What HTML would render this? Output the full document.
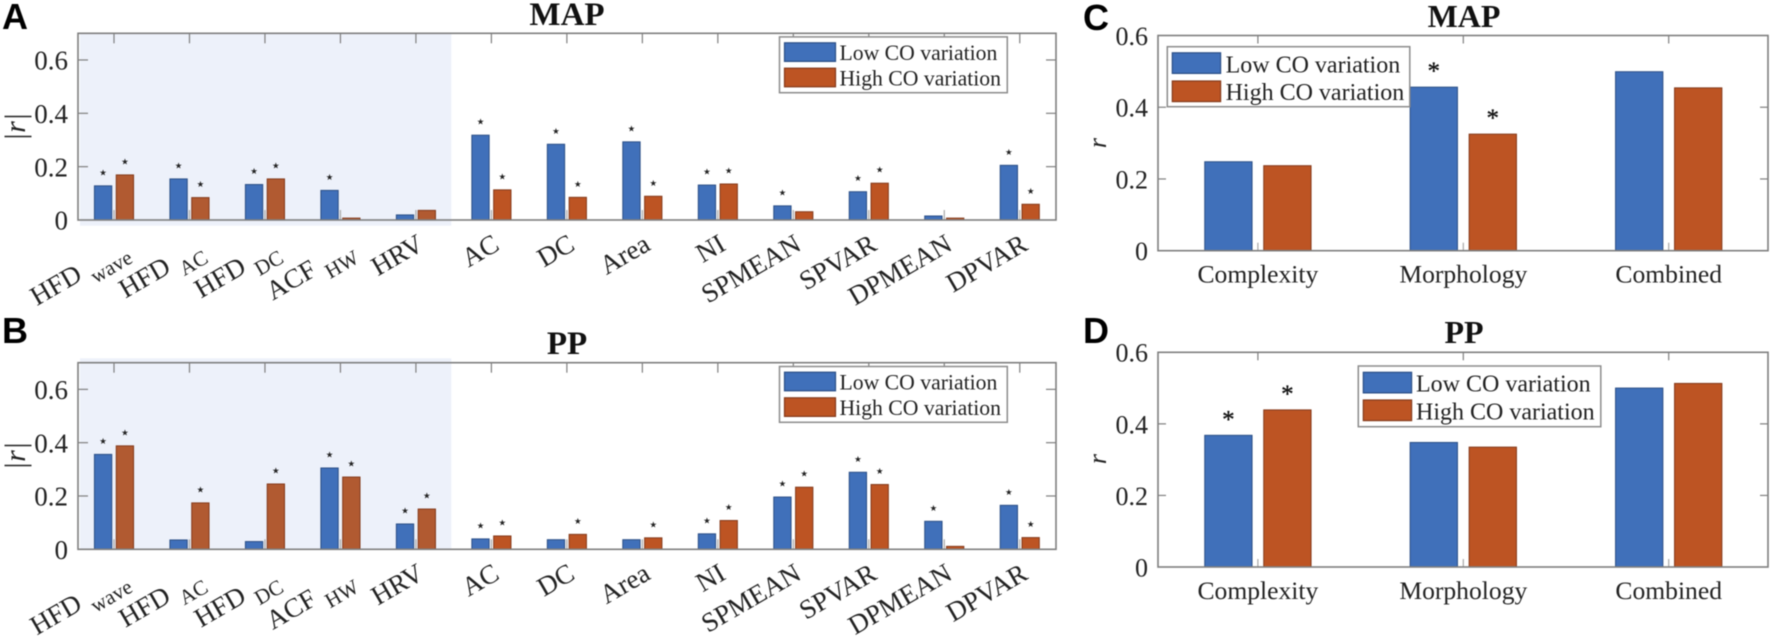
<!DOCTYPE html>
<html lang="en">
<head>
<meta charset="utf-8">
<title>MAP and PP correlation bar charts</title>
<style>
html,body{margin:0;padding:0;background:#fff;}
body{width:1772px;height:640px;overflow:hidden;}
svg{display:block;filter:blur(0.5px);}
text{font-family:"Liberation Serif",serif;fill:#222;}
</style>
</head>
<body>
<svg id="figure" xmlns="http://www.w3.org/2000/svg" width="1772" height="640" viewBox="0 0 1772 640"></svg>
<script>
const featureCategories = ['HFD_wave','HFD_AC','HFD_DC','ACF_HW','HRV','AC','DC','Area','NI','SPMEAN','SPVAR','DPMEAN','DPVAR'];
const groupCategories = ['Complexity','Morphology','Combined'];
const seriesNames = ['Low CO variation','High CO variation'];
const featureYTicks = [0,0.2,0.4,0.6];
const featureYTickLabels = ['0','0.2','0.4','0.6'];
const groupYTicks = [0,0.2,0.4,0.6];
const groupYTickLabels = ['0','0.2','0.4','0.6'];

const mapFeatureLow = [0.128,0.154,0.133,0.111,0.019,0.318,0.284,0.293,0.131,0.053,0.106,0.015,0.205];
const mapFeatureHigh = [0.169,0.084,0.154,0.007,0.036,0.113,0.085,0.089,0.135,0.031,0.138,0.007,0.059];
const mapFeatureLowSig = [1,1,1,1,0,1,1,1,1,1,1,0,1];
const mapFeatureHighSig = [1,1,1,0,0,1,1,1,1,0,1,0,1];

const ppFeatureLow = [0.356,0.035,0.029,0.305,0.095,0.039,0.036,0.036,0.058,0.196,0.289,0.105,0.165];
const ppFeatureHigh = [0.388,0.174,0.245,0.271,0.151,0.050,0.056,0.043,0.108,0.233,0.243,0.011,0.044];
const ppFeatureLowSig = [1,0,0,1,1,1,0,0,1,1,1,1,1];
const ppFeatureHighSig = [1,1,1,1,1,1,1,1,1,1,1,0,1];

const mapGroupLow = [0.248,0.456,0.499];
const mapGroupHigh = [0.237,0.325,0.454];
const mapGroupLowSig = [0,1,0];
const mapGroupHighSig = [0,1,0];

const ppGroupLow = [0.368,0.348,0.500];
const ppGroupHigh = [0.439,0.335,0.513];
const ppGroupLowSig = [1,0,0];
const ppGroupHighSig = [1,0,0];

const NS = 'http://www.w3.org/2000/svg';
const AXIS = '#7f7f7f';
const BLUE = '#4070ba';
const BLUE_EDGE = '#2b4f86';
const RED = '#bd5423';
const RED_SHADED = '#b15a31';
const RED_EDGE = '#843a1b';
const root = document.getElementById('figure');

function mk(parent, tag, attrs, txt) {
  const el = document.createElementNS(NS, tag);
  for (const k in attrs) el.setAttribute(k, attrs[k]);
  if (txt !== undefined) el.textContent = txt;
  parent.appendChild(el);
  return el;
}
function line(parent, x1, y1, x2, y2, name, color, w) {
  const el = mk(parent, 'line', {x1, y1, x2, y2, stroke: color || AXIS, 'stroke-width': w || 1.4});
  
  
  return el;
}

function drawChart(o) {
  const g = mk(root, 'g', {});
  
  

  const xOf = i => o.firstTick + i * o.tickStep;
  const yOf = v => o.bottom - (v / o.yMax) * (o.bottom - o.top);

  const letter = mk(g, 'text', {x: o.letterX, y: o.letterY, style: 'font-family:"Liberation Sans",sans-serif;font-weight:700;font-size:36px;fill:#000'}, o.letter);
  
  

  if (o.shadeRight) {
    const shade = mk(g, 'rect', {x: o.shadeLeft, y: o.shadeTop, width: o.shadeRight - o.shadeLeft, height: o.shadeBottom - o.shadeTop, fill: '#edf1fa'});
    
    
  }

  const title = mk(g, 'text', {x: o.titleX, y: o.titleY, 'text-anchor': 'middle', style: 'font-weight:700;fill:#111;font-size:' + o.titleSize + 'px'}, o.title);
  
  

  const tl = o.tickLen;
  o.categories.forEach((c, i) => {
    line(g, xOf(i), o.top, xOf(i), o.top + tl, 'x-tick-top', AXIS, 1.2);
    line(g, xOf(i), o.bottom, xOf(i), o.bottom - tl, 'x-tick-bottom', '#a8a8a8', 1.2);
  });
  o.yTicks.forEach((v, i) => {
    if (v > 0 && v < o.yMax) {
      line(g, o.left, yOf(v), o.left + tl, yOf(v), 'y-tick-left', AXIS, 1.2);
      line(g, o.right, yOf(v), o.right - tl, yOf(v), 'y-tick-right', AXIS, 1.2);
    }
    const t = mk(g, 'text', {x: o.yLabelX, y: yOf(v) + o.yLabelDy, 'text-anchor': 'end', 'font-size': o.yLabelSize}, o.yLabels[i]);
    
    
  });

  const seriesList = [
    {vals: o.low, sig: o.lowSig, dir: -1, fill: BLUE, edge: BLUE_EDGE, name: 'low'},
    {vals: o.high, sig: o.highSig, dir: 1, fill: RED, edge: RED_EDGE, name: 'high'}
  ];
  seriesList.forEach(s => {
    s.vals.forEach((v, i) => {
      const cx = xOf(i) + s.dir * o.barOffset;
      const y = yOf(v);
      const fill = (s.name === 'high' && o.shadeCount && i < o.shadeCount) ? RED_SHADED : s.fill;
      const r = mk(g, 'rect', {x: cx - o.barWidth / 2, y, width: o.barWidth, height: o.bottom - y, fill, stroke: s.edge, 'stroke-width': 1});
      
      
      if (s.sig[i]) {
        const st = mk(g, 'text', {x: cx, y: y - o.starUp, 'text-anchor': 'middle', style: o.starStyle}, o.starGlyph);
        
        
      }
    });
  });

  mk(g, 'rect', {x: o.left, y: o.top, width: o.right - o.left, height: o.bottom - o.top, fill: 'none', stroke: AXIS, 'stroke-width': 1.6});

  o.categories.forEach((c, i) => {
    const parts = c.split('_');
    let t;
    if (o.rotated) {
      const hasSub = parts.length > 1;
      const ax = xOf(i) + (hasSub ? 15 : 9.5);
      const ay = o.bottom + (hasSub ? 33 : 29);
      t = mk(g, 'text', {transform: 'translate(' + ax + ' ' + ay + ') rotate(-30)', 'text-anchor': 'end', 'font-size': 27});
      mk(t, 'tspan', {}, parts[0]);
      if (hasSub) mk(t, 'tspan', {dx: 8, dy: 10, 'font-size': 21}, parts[1]);
    } else {
      t = mk(g, 'text', {x: xOf(i), y: o.bottom + 32, 'text-anchor': 'middle', 'font-size': 25.6}, c);
    }
    
    
  });

  const yl = mk(g, 'text', {transform: 'translate(' + o.yTitleX + ' ' + o.yTitleY + ') rotate(-90)', 'text-anchor': 'middle', style: 'font-style:italic;font-size:' + o.yTitleSize + 'px'}, o.yTitle);
  
  

  const lg = mk(g, 'g', {});
  
  
  mk(lg, 'rect', {x: o.lgX, y: o.lgY, width: o.lgW, height: o.lgH, fill: '#fff', stroke: '#8c8c8c', 'stroke-width': 1.5});
  seriesNames.forEach((n, i) => {
    const sw = mk(lg, 'rect', {x: o.swX, y: o.swYs[i], width: o.swW, height: o.swH, fill: i ? RED : BLUE, stroke: i ? RED_EDGE : BLUE_EDGE, 'stroke-width': 1.2});
    
    
    const lt = mk(lg, 'text', {x: o.lgTextX, y: o.lgBase[i], 'font-size': o.lgSize}, n);
    
    
  });
}

const wideBase = {
  categories: featureCategories, yTicks: featureYTicks, yLabels: featureYTickLabels,
  yMax: 0.7, left: 78, right: 1056, firstTick: 114, tickStep: 75.48, tickLen: 10,
  barOffset: 10.9, barWidth: 17.3, yLabelX: 68, yLabelDy: 9.7, yLabelSize: 27,
  titleX: 567, titleSize: 33, rotated: true, starUp: 10.5, starGlyph: '\u2605',
  starStyle: 'font-family:"DejaVu Sans",sans-serif;font-size:8.5px;fill:#222',
  yTitle: '|r|', yTitleX: 25, yTitleSize: 30, letterX: 2, shadeLeft: 80, shadeRight: 451.3, shadeCount: 5,
  lgX: 779.5, lgW: 227.8, swX: 784.5, swW: 51, swH: 18.6, lgTextX: 839.5, lgSize: 21.7
};
const narrowBase = {
  categories: groupCategories, yTicks: groupYTicks, yLabels: groupYTickLabels,
  yMax: 0.6, left: 1158, right: 1768, firstTick: 1257.9, tickStep: 205.4, tickLen: 8,
  barOffset: 29.5, barWidth: 47.3, yLabelX: 1148, yLabelDy: 9.4, yLabelSize: 26,
  titleX: 1464, titleSize: 32, rotated: false, starUp: 8, starGlyph: '*',
  starStyle: 'font-size:25px;fill:#111;stroke:#111;stroke-width:0.3',
  yTitle: 'r', yTitleX: 1106, yTitleSize: 26, letterX: 1083,
  lgW: 242.5, swW: 48.3, swH: 20.6, lgSize: 24
};

drawChart(Object.assign({}, wideBase, {
  id: 'chart-a-map-features', letter: 'A', letterY: 29, top: 33.3, bottom: 220, title: 'MAP', titleY: 25,
  low: mapFeatureLow, high: mapFeatureHigh, lowSig: mapFeatureLowSig, highSig: mapFeatureHighSig,
  yTitleY: 127, shadeTop: 33, shadeBottom: 225.7,
  lgY: 36.9, lgH: 55.8, swYs: [42.8, 68.2], lgBase: [60, 85.3]
}));
drawChart(Object.assign({}, wideBase, {
  id: 'chart-b-pp-features', letter: 'B', letterY: 343, top: 362.7, bottom: 549.3, title: 'PP', titleY: 354,
  low: ppFeatureLow, high: ppFeatureHigh, lowSig: ppFeatureLowSig, highSig: ppFeatureHighSig,
  yTitleY: 456, shadeTop: 358.3, shadeBottom: 549.3,
  lgY: 366.5, lgH: 55.8, swYs: [372.2, 397.8], lgBase: [389.5, 414.8]
}));
drawChart(Object.assign({}, narrowBase, {
  id: 'chart-c-map-groups', letter: 'C', letterY: 30, top: 35.5, bottom: 250.7, title: 'MAP', titleY: 27,
  low: mapGroupLow, high: mapGroupHigh, lowSig: mapGroupLowSig, highSig: mapGroupHighSig,
  yTitleY: 143, lgX: 1167.3, lgY: 46.7, lgH: 60, swX: 1172.3, swYs: [52.8, 81], lgTextX: 1225.6, lgBase: [72.3, 100]
}));
drawChart(Object.assign({}, narrowBase, {
  id: 'chart-d-pp-groups', letter: 'D', letterY: 343, top: 352.3, bottom: 567, title: 'PP', titleY: 343,
  low: ppGroupLow, high: ppGroupHigh, lowSig: ppGroupLowSig, highSig: ppGroupHighSig,
  yTitleY: 459, lgX: 1358.3, lgY: 366, lgH: 60.7, swX: 1363.3, swYs: [372.3, 400], lgTextX: 1416, lgBase: [391.7, 419.3]
}));
</script>
</body>
</html>
